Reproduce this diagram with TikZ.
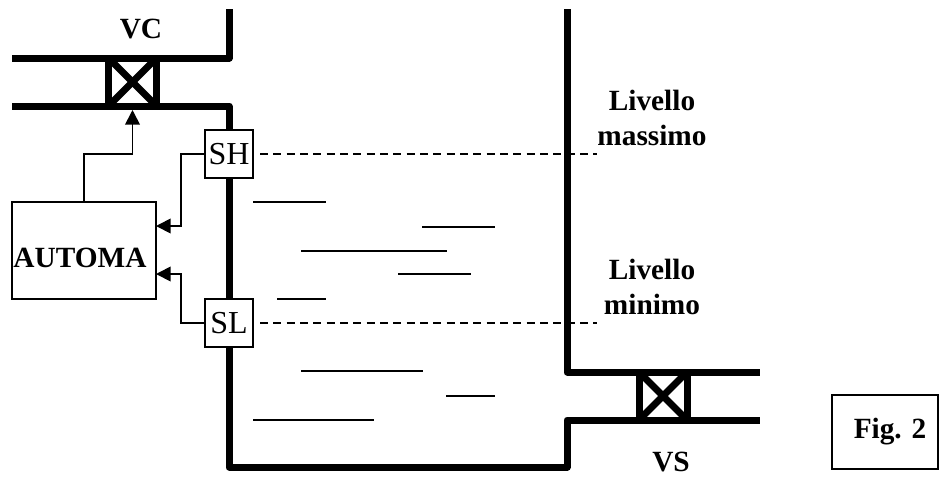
\documentclass[tikz,border=0pt]{standalone}
\usepackage{fontspec}
\setmainfont{Liberation Serif}
\usetikzlibrary{arrows.meta}
\begin{document}
\begin{tikzpicture}[x=0.75pt,y=-0.75pt,
  pipe/.style={line width=5.25pt, line join=round},
  signal/.style={line width=1.3pt, -{Triangle[length=11pt,width=11pt]}},
  level/.style={line width=1pt, dash pattern=on 6pt off 4pt},
  water/.style={line width=1.1pt},
  sensor/.style={rectangle, draw, fill=white, line width=1.3pt, minimum size=36pt, inner sep=0pt, outer sep=0pt, font=\fontsize{24}{26}\selectfont},
  valve/.style={rectangle, draw, line width=5.25pt, minimum size=36pt, inner sep=0pt, outer sep=0pt},
  box/.style={rectangle, draw, line width=1.3pt, inner sep=0pt, outer sep=0pt},
  txt/.style={align=center, inner sep=0pt, font=\fontsize{22}{26.25}\selectfont\bfseries}]
\useasboundingbox (0,0) rectangle (939,476);
% end points of the pipes
\coordinate (inTop) at (12,58);
\coordinate (inBot) at (12,106);
\coordinate (topL) at (229,9);
\coordinate (topR) at (567,9);
\coordinate (outTop) at (760,372);
\coordinate (outBot) at (760,420);
\draw[pipe] (inTop) -- (229,58) -- (topL);
\draw[pipe] (inBot) -- (229,106) -- (229,467) -- (567,467) -- (567,420) -- (outBot);
\draw[pipe] (topR) -- (567,372) -- (outTop);
% valves
\node (vc) [valve] at (132.5,82) {};
\node (vs) [valve] at (663,396) {};
\draw[pipe] (vc.north west) -- (vc.south east);
\draw[pipe] (vc.north east) -- (vc.south west);
\draw[pipe] (vs.north west) -- (vs.south east);
\draw[pipe] (vs.north east) -- (vs.south west);
% sensors and controller
\node (sh) [sensor] at (229,154) {SH};
\node (sl) [sensor] at (229,323) {SL};
\node (automa) [box, minimum width=108pt, minimum height=72.5pt] at (84,250.5) {};
\node (fig) [box, minimum width=80pt, minimum height=55pt] at (885,432) {};
\coordinate (inHigh) at (156,226);
\coordinate (inLow) at (156,274);
\coordinate (levelH) at (597,154);
\coordinate (levelL) at (597,323);
\draw[signal, shorten >=3pt] (automa.north) -- ++(0,-48) -| (vc.south);
\draw[signal] (sh.west) -- ++(-24,0) |- (inHigh);
\draw[signal] (sl.west) -- ++(-24,0) |- (inLow);
\draw[level] (sh.east) ++(7,0) -- (levelH);
\draw[level] (sl.east) ++(7,0) -- (levelL);
% water surface
\foreach \xa/\xb/\ya in {253/326/202, 422/495/227, 301/447/251, 398/471/274, 277/326/299, 301/423/371, 446/495/396, 253/374/420}
  \draw[water] (\xa,\ya) -- (\xb,\ya);
% labels
\node (vcl) [txt] at (141,29) {VC};
\node (vsl) [txt] at (671,462) {VS};
\node (max) [txt] at (652,118) {Livello\\massimo};
\node (min) [txt] at (652,287) {Livello\\minimo};
\node (autl) [txt] at (80,258) {AUTOMA};
\node (figl) [txt] at (890,432) {Fig. 2};
\end{tikzpicture}
\end{document}
